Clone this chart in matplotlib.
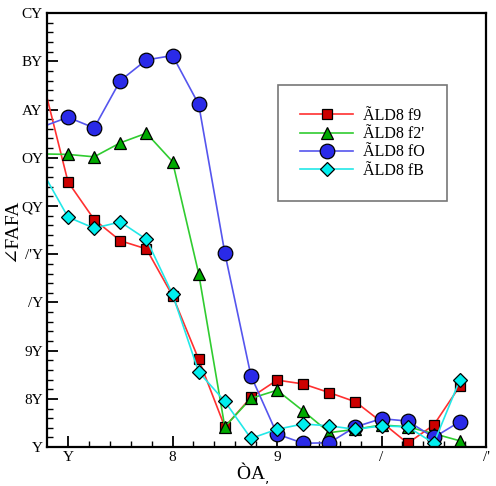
import numpy as np
import matplotlib
matplotlib.use("Agg")
import matplotlib.pyplot as plt

plt.rcParams['font.family'] = ['Liberation Serif', 'DejaVu Serif']

# data (first point sits just left of the axes, only its line shows)
x = [-0.25, 0.0, 0.25, 0.5, 0.75, 1.0, 1.25, 1.5, 1.75, 2.0, 2.25, 2.5, 2.75, 3.0, 3.25, 3.5, 3.75]
red = [76.7, 55.0, 47.2, 42.8, 41.1, 31.4, 18.2, 4.2, 10.3, 13.9, 13.1, 11.3, 9.4, 5.2, 0.8, 4.6, 12.7]
green = [60.8, 60.7, 60.2, 63.1, 65.1, 59.2, 36.0, 4.2, 10.1, 11.8, 7.5, 3.0, 3.7, 4.6, 4.2, 2.8, 1.3]
blue = [66.4, 68.4, 66.2, 76.0, 80.3, 81.2, 71.1, 40.3, 14.8, 2.7, 0.8, 0.9, 4.2, 5.9, 5.4, 2.0, 5.3]
cyan = [57.3, 47.7, 45.4, 46.7, 43.1, 31.7, 15.6, 9.5, 1.8, 3.7, 4.8, 4.4, 3.7, 4.4, 4.2, 0.8, 14.0]

labels = ["ÃLD8 f9", "ÃLD8 f2'", "ÃLD8 fO", "ÃLD8 fB"]
xticks = [0, 1, 2, 3, 4]
xticklabels = ["Y", "8", "9", "/", "/'"]
yticks = [0, 10, 20, 30, 40, 50, 60, 70, 80, 90]
yticklabels = ["Y", "8Y", "9Y", "/Y", "/'Y", "QY", "OY", "AY", "BY", "CY"]

fig = plt.figure(figsize=(4.96, 4.86), dpi=100)
ax = fig.add_axes([0.095, 0.080, 0.885, 0.893])

series = [
    (red, 's', '#ff3030', '#cc0000', 7.5),
    (green, '^', '#30cc30', '#00aa00', 9),
    (blue, 'o', '#5555ee', '#2a2ae8', 10.5),
    (cyan, 'D', '#22e8e8', '#00eeee', 7.5),
]
for (ys, mk, lc, fc, ms), lab in zip(series, labels):
    ax.plot(x, ys, color=lc, lw=1.2, marker=mk, markersize=ms,
            markerfacecolor=fc, markeredgecolor='black', markeredgewidth=0.9,
            markevery=slice(1, None), label=lab)

ax.set_xlim(-0.2, 4.0)
ax.set_ylim(0, 90)
ax.set_xticks(xticks)
ax.set_xticklabels(xticklabels)
ax.set_yticks(yticks)
ax.set_yticklabels(yticklabels)
ax.set_xticks(np.arange(0, 4.01, 0.2), minor=True)
ax.set_yticks(np.arange(0, 90.1, 2), minor=True)
ax.tick_params(which='major', direction='in', length=8, width=1.3, labelsize=11, pad=3)
ax.tick_params(which='minor', direction='in', length=4, width=1.0)
for s in ax.spines.values():
    s.set_linewidth(1.6)

ax.set_xlabel("ÒA$_{,}$", fontsize=14)
ax.xaxis.set_label_coords(0.468, -0.03)
ax.set_ylabel("∠FAFA", fontsize=14)
ax.yaxis.set_label_coords(-0.06, 0.5)

leg = ax.legend(loc='upper left', bbox_to_anchor=(0.508, 0.852), fontsize=11.5,
                frameon=True, fancybox=False, edgecolor='#555555',
                handlelength=3.3, borderpad=1.4, labelspacing=0.15, handletextpad=0.6)
leg.get_frame().set_linewidth(1.2)

fig.savefig("out.png", dpi=100)
